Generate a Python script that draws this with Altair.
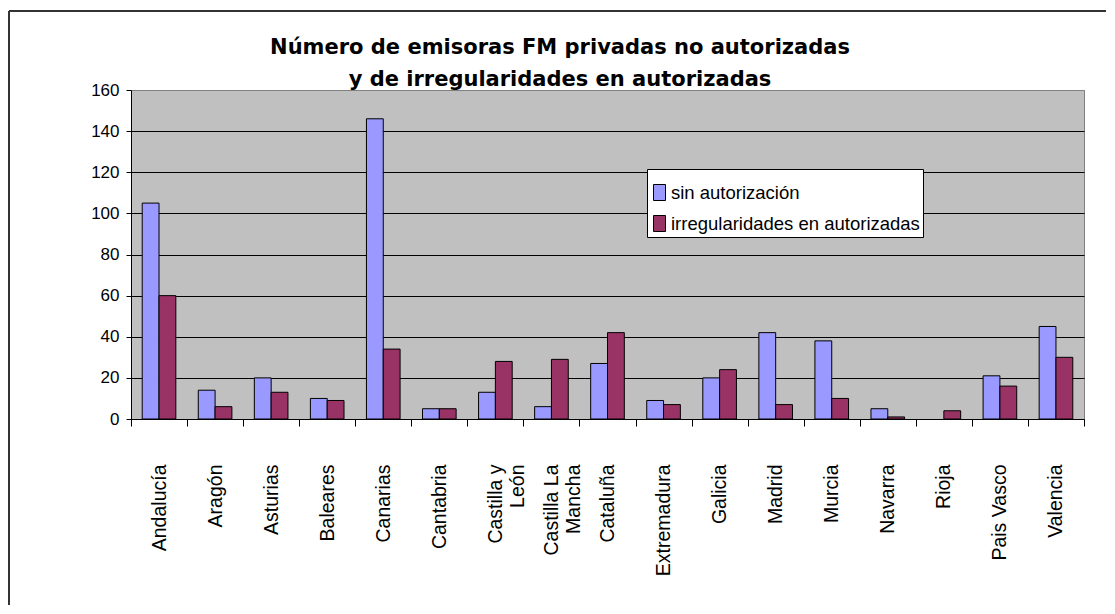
import altair as alt
import pandas as pd

regions = ["Andalucía", "Aragón", "Asturias", "Baleares", "Canarias", "Cantabria",
           "Castilla y León", "Castilla La Mancha", "Cataluña", "Extremadura", "Galicia",
           "Madrid", "Murcia", "Navarra", "Rioja", "Pais Vasco", "Valencia"]
sin_autorizacion = [105, 14, 20, 10, 146, 5, 13, 6, 27, 9, 20, 42, 38, 5, 0, 21, 45]
irregularidades = [60, 6, 13, 9, 34, 5, 28, 29, 42, 7, 24, 7, 10, 1, 4, 16, 30]
series = ["sin autorización", "irregularidades en autorizadas"]
colors = ["#9999FF", "#993366"]
title_lines = ["Número de emisoras FM privadas no autorizadas",
               "y de irregularidades en autorizadas"]
y_ticks = [0, 20, 40, 60, 80, 100, 120, 140, 160]

rows = []
for r, a, b in zip(regions, sin_autorizacion, irregularidades):
    rows.append({"region": r, "serie": series[0], "valor": a})
    rows.append({"region": r, "serie": series[1], "valor": b})
df = pd.DataFrame(rows)

W, H = 953, 329
FONT = "Liberation Sans, Arial, sans-serif"

label_expr = ("datum.label == 'Castilla y León' ? ['Castilla y', 'León'] : "
              "datum.label == 'Castilla La Mancha' ? ['Castilla La', 'Mancha'] : datum.label")

bars = alt.Chart(df).transform_filter("datum.valor > 0").mark_bar(
    stroke="black", strokeWidth=1
).encode(
    x=alt.X("region:N", sort=regions,
            scale=alt.Scale(domain=regions, paddingInner=0, paddingOuter=0),
            axis=alt.Axis(title=None, labelAngle=-90, labelAlign="right", labelBaseline="middle",
                          labelFont=FONT, labelFontSize=19.5, labelColor="black",
                          labelPadding=38, labelExpr=label_expr, labelLineHeight=22,
                          labelOverlap=False, tickBand="extent", tickSize=7,
                          tickColor="black", domainColor="black")),
    xOffset=alt.XOffset("serie:N", sort=series,
                        scale=alt.Scale(domain=series, paddingInner=0, paddingOuter=0.667)),
    y=alt.Y("valor:Q", scale=alt.Scale(domain=[0, 160], nice=False),
            axis=alt.Axis(title=None, values=y_ticks, grid=True,
                          gridColor={"condition": {"test": "datum.value >= 160", "value": "#808080"},
                                     "value": "black"},
                          labelFont=FONT, labelFontSize=17, labelColor="black",
                          tickSize=5, labelPadding=7, domainColor="black", tickColor="black")),
    color=alt.Color("serie:N", sort=series,
                    scale=alt.Scale(domain=series, range=colors),
                    legend=alt.Legend(title=None, orient="none", legendX=516, legendY=79,
                                      fillColor="white", strokeColor="black", padding=3,
                                      symbolType="M-0.85,-0.4H-0.25V0.4H-0.85Z",
                                      symbolSize=1600, symbolStrokeColor="black",
                                      symbolStrokeWidth=1, symbolOpacity=1,
                                      labelFont=FONT, labelFontSize=18.5,
                                      labelOffset={"expr": "-20"},
                                      rowPadding=0, labelColor="black", labelLimit=400)),
)

one = alt.Data(values=[{"a": 1}])
top_rule = alt.Chart(one).mark_rule(color="#333333", strokeWidth=2).encode(
    x=alt.value(-122), x2=alt.value(975), y=alt.value(-79))
left_rule = alt.Chart(one).mark_rule(color="#333333", strokeWidth=2).encode(
    x=alt.value(-122), y=alt.value(-79), y2=alt.value(515))
title = alt.Chart(one).mark_text(
    text=title_lines, font="DejaVu Sans", fontWeight="bold", fontSize=21,
    lineHeight=32, align="center", baseline="alphabetic", color="black"
).encode(x=alt.value(429), y=alt.value(-36))

chart = alt.layer(top_rule, left_rule, bars, title).properties(
    width=W, height=H,
    padding={"left": 0, "top": 2, "right": 0, "bottom": 0},
    background="white",
).configure_view(fill="#C0C0C0", stroke="#808080", strokeWidth=1)

chart.save("out.html", embed_options={"renderer": "svg", "actions": False})
